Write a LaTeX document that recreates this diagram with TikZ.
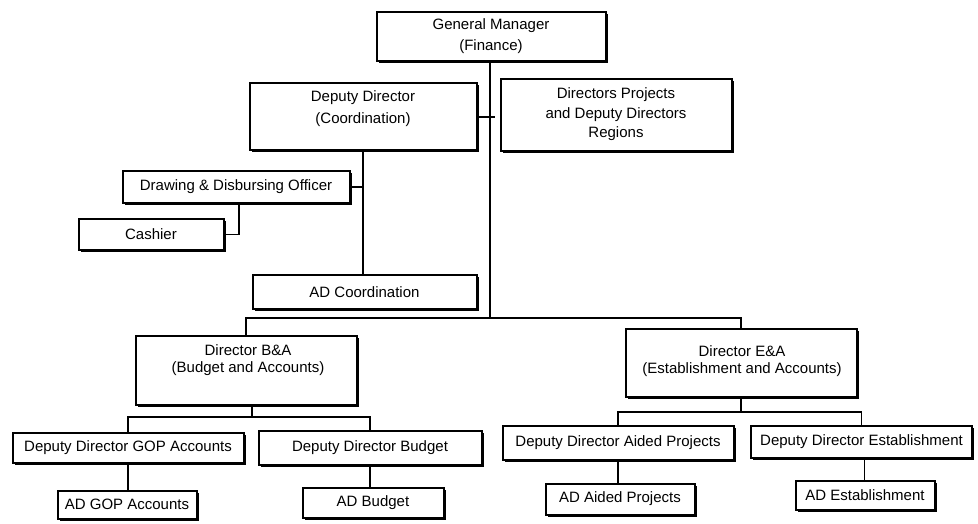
\documentclass[tikz,border=0pt]{standalone}
\usepackage{fontspec}
\setmainfont{Liberation Sans}
\usetikzlibrary{shadows}
\begin{document}
\begin{tikzpicture}[x=1pt,y=-1pt,
  box/.style={draw=black, line width=2pt, fill=white, inner sep=0pt,
    drop shadow={shadow xshift=2.2pt, shadow yshift=-2.2pt, fill=black, opacity=1},
    font=\fontsize{15}{19}\selectfont, align=center},
  txt/.style={inner sep=0pt, align=center, font=\fontsize{15}{19}\selectfont},
  conn/.style={draw=black, line width=1.2pt}]
\useasboundingbox (0,0) rectangle (978,523);
% boxes
\node[box, minimum width=229, minimum height=49, font=\fontsize{15}{20.5}\selectfont] (gm) at (491,36) {General Manager\\(Finance)};
\node[box, minimum width=227, minimum height=67] (ddc) at (363,116) {};
\node[txt, font=\fontsize{15}{22}\selectfont] (ddct) at (363,109) {Deputy Director\\(Coordination)};
\node[box, minimum width=231, minimum height=72, font=\fontsize{15}{19.5}\selectfont] (dp) at (616,114.5) {Directors Projects\\and Deputy Directors\\Regions};
\node[box, minimum width=227, minimum height=32] (ddo) at (236,187) {Drawing \& Disbursing Officer};
\node[box, minimum width=145, minimum height=31] (cash) at (151,234.5) {Cashier};
\node[box, minimum width=224, minimum height=34] (adc) at (364.5,292) {AD Coordination};
\node[box, minimum width=221, minimum height=69] (dba) at (246,370.5) {};
\node[txt, font=\fontsize{15}{16.5}\selectfont] (dbat) at (248,360) {Director B\&A\\(Budget and Accounts)};
\node[box, minimum width=231, minimum height=68] (dea) at (741,363) {};
\node[txt, font=\fontsize{15}{17}\selectfont] (deat) at (742,361.5) {Director E\&A\\(Establishment and Accounts)};
\node[box, minimum width=231, minimum height=30] (ddg) at (128,447.5) {Deputy Director GOP Accounts};
\node[box, minimum width=223, minimum height=34] (ddb) at (370,447.5) {Deputy Director Budget};
\node[box, minimum width=231, minimum height=34] (dda) at (618,442.5) {Deputy Director Aided Projects};
\node[box, minimum width=221, minimum height=32] (dde) at (861.5,441.5) {Deputy Director Establishment};
\node[box, minimum width=139, minimum height=28] (adg) at (127,504.5) {AD GOP Accounts};
\node[box, minimum width=141, minimum height=30] (adb) at (373,502.5) {AD Budget};
\node[box, minimum width=149, minimum height=31] (ada) at (620,499) {AD Aided Projects};
\node[box, minimum width=139, minimum height=29] (ade) at (865,495) {AD Establishment};
% junction coordinates
\coordinate (trunk) at (490,318);
\coordinate (tick) at (495,117);
\coordinate (busL) at (250,417);
\coordinate (busR) at (742,412);
% connectors
\draw[conn] (gm.south -| trunk) -- (trunk);
\draw[conn] (ddc.east |- tick) -- (tick);
\draw[conn] (ddc.south) -- (ddc.south |- adc.north);
\draw[conn] (ddo.east) -- (ddo.east -| ddc.south);
\draw[conn] ([xshift=3pt]ddo.south) |- (cash.east);
\draw[conn] (dba.north) |- (trunk) -| (dea.north);
\draw[conn] ([xshift=6pt]dba.south) -- ([xshift=6pt]dba.south |- busL);
\draw[conn] (ddg.north) -- (ddg.north |- busL) -- (ddb.north |- busL) -- (ddb.north);
\draw[conn] (dea.south) -- (dea.south |- busR);
\draw[conn] (dda.north) -- (dda.north |- busR) -- (dde.north |- busR) -- (dde.north);
\draw[conn] (ddg.south) -- (ddg.south |- adg.north);
\draw[conn] (ddb.south) -- (ddb.south |- adb.north);
\draw[conn] (dda.south) -- (dda.south |- ada.north);
\draw[conn] ([xshift=3pt]dde.south) -- ([xshift=3pt]dde.south |- ade.north);
\end{tikzpicture}
\end{document}
